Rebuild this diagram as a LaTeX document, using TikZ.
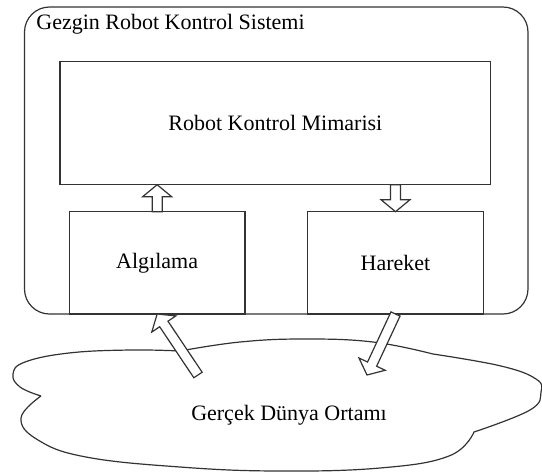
\documentclass[tikz,border=0pt]{standalone}
\usepackage{fontspec}
\setmainfont{Liberation Serif}
\usetikzlibrary{calc}
\tikzset{>=latex,
  line/.style={draw=black!80, line width=.6pt},
  box/.style={line, rectangle, inner sep=0pt, outer sep=0pt},
  blockarrow/.style={line, fill=white, line join=miter}}
\newcommand\hollowarrow[2]{%
  \coordinate (hb) at ($(#2)!6pt!(#1)$);
  \draw[blockarrow]($(#1)!2.5pt!90:(#2)$)--($(hb)!2.5pt!90:(#2)$)--($(hb)!7.25pt!90:(#2)$)--(#2)
    --($(hb)!7.25pt!-90:(#2)$)--($(hb)!2.5pt!-90:(#2)$)--($(#1)!2.5pt!-90:(#2)$)--cycle;}

\begin{document}
\begin{tikzpicture}[x=.5pt, y=-.5pt, font=\fontsize{11}{13}\selectfont]
    \useasboundingbox(0, 0)rectangle(542, 473);
    \node[box, rounded corners=12.5pt, minimum width=251.75pt, minimum height=153.5pt](sys)at(276.25, 160.5){};
    \node[anchor=base west, inner sep=0pt](title)at(36, 29.5){Gezgin Robot Kontrol Sistemi};
    \node[box, minimum width=215.35pt, minimum height=61.7pt](rkm)at(275.35, 123){Robot Kontrol Mimarisi};
    \node[box, minimum width=87.85pt, minimum height=51.15pt](alg)at(157.15, 262.85){Algılama};
    \node[box, minimum width=87.8pt, minimum height=51.15pt](har)at(395.5, 262.85){Hareket};
    \draw[line]plot[smooth, tension=.7]coordinates{(41, 396)(20, 387)(13, 374)(25, 362)(69, 353)(130, 350)(180, 351)}
        --plot[smooth, tension=.7]coordinates{(180, 351)(240, 342)(304, 339)(373, 342)(433, 354)}
        --plot[smooth, tension=.7]coordinates{(433, 354)(501, 366)(536, 379)(541, 392)(530, 410)(474, 432)}
        --plot[smooth, tension=.7]coordinates{(474, 432)(449, 456)(380, 468)(277, 471)(180, 467)(86, 457)(38, 440)(21, 418)(41, 396)};
    \node(world)at(289, 415){Gerçek Dünya Ortamı};
    \coordinate(w1)at(198, 375);
    \coordinate(w2)at(367, 375);
    \hollowarrow{alg.north}{alg.north |- rkm.south}
    \hollowarrow{har.north |- rkm.south}{har.north}
    \hollowarrow{w1}{alg.south}
    \hollowarrow{har.south}{w2}
\end{tikzpicture}
\end{document}
